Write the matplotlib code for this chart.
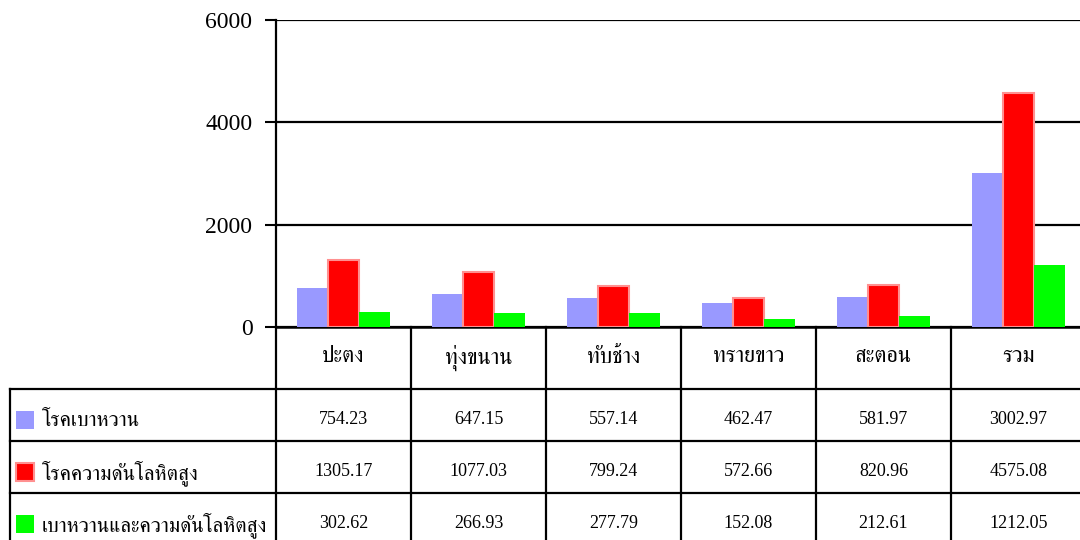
import matplotlib
matplotlib.use("Agg")
import matplotlib.pyplot as plt
import matplotlib.transforms as mtransforms
from matplotlib.patches import Rectangle
import numpy as np

FONT = ["Liberation Serif", "FreeSerif"]
plt.rcParams["font.family"] = FONT

# =========================
# DATA
# =========================

categories = ["ปะตง", "ทุ่งขนาน", "ทับช้าง", "ทรายขาว", "สะตอน", "รวม"]

series_names = [
    "โรคเบาหวาน",
    "โรคความดันโลหิตสูง",
    "เบาหวานและความดันโลหิตสูง",
]

diabetes = [754.23, 647.15, 557.14, 462.47, 581.97, 3002.97]
hypertension = [1305.17, 1077.03, 799.24, 572.66, 820.96, 4575.08]
both = [302.62, 266.93, 277.79, 152.08, 212.61, 1212.05]

series_values = [diabetes, hypertension, both]

colors = ["#9999FF", "#FF0000", "#00FF00"]
edges = ["#9999FF", "#FF9090", "#00FF00"]

y_ticks = [0, 2000, 4000, 6000]

# =========================
# FIGURE
# =========================

W, H = 1080, 540
fig = plt.figure(figsize=(W / 100, H / 100), dpi=100)

ax = fig.add_axes([276 / W, 213 / H, (1086 - 276) / W, 307 / H])

x = np.arange(len(categories))
bar_w = 0.23

for k, vals in enumerate(series_values):
    ax.bar(
        x + (k - 1) * bar_w,
        vals,
        width=bar_w,
        color=colors[k],
        edgecolor=edges[k],
        linewidth=1.5 if k == 1 else 0,
        zorder=3,
    )

ax.set_xlim(-0.5, len(categories) - 0.5)
ax.set_ylim(0, 6000)
ax.set_yticks(y_ticks)
ax.set_yticklabels([str(t) for t in y_ticks], fontsize=17, family=FONT)
ax.tick_params(axis="y", length=8, width=1.5, pad=9, direction="out")
ax.set_xticks([])

ax.yaxis.grid(True, color="black", linewidth=1.6)
ax.set_axisbelow(True)

for side in ["top", "right"]:
    ax.spines[side].set_visible(False)
ax.spines["left"].set_linewidth(1.6)
ax.spines["bottom"].set_linewidth(1.8)

# =========================
# DATA TABLE
# =========================

trans = mtransforms.blended_transform_factory(ax.transData, ax.transAxes)

px = 307.0
row_lines = [-62 / px, -114 / px, -166 / px, -218 / px]
left_edge = -0.5 - 266 / 135.0
right_edge = len(categories) - 0.5

lw = 1.6

# vertical lines between columns
for b in np.arange(-0.5, len(categories)):
    ax.plot([b, b], [0, row_lines[-1]], color="black", lw=lw,
            transform=trans, clip_on=False)

# left border of label column
ax.plot([left_edge, left_edge], [row_lines[0], row_lines[-1]], color="black",
        lw=lw, transform=trans, clip_on=False)

# horizontal lines
for r in row_lines[:3]:
    ax.plot([left_edge, right_edge], [r, r], color="black", lw=lw,
            transform=trans, clip_on=False)

# header row
for i, c in enumerate(categories):
    ax.text(i, -31 / px, c, ha="center", va="center", fontsize=16,
            family=FONT, transform=trans, clip_on=False)

# value rows
row_text_y = [-93 / px, -145 / px, -197 / px]
for k, vals in enumerate(series_values):
    for i, v in enumerate(vals):
        ax.text(i, row_text_y[k], f"{v:.2f}", ha="center", va="center",
                fontsize=13, family=FONT, transform=trans, clip_on=False)
    # legend key and label
    y_pix = H - (327 - row_text_y[k] * px)
    fig.add_artist(Rectangle(
        (16 / W, (y_pix - 9) / H), 18 / W, 18 / H,
        facecolor=colors[k], edgecolor=edges[k],
        linewidth=1.5 if k == 1 else 0,
        transform=fig.transFigure,
    ))
    fig.text(42 / W, (y_pix - 1) / H, series_names[k], ha="left",
             va="center", fontsize=15, family=FONT)

fig.savefig("out.png", dpi=100)
